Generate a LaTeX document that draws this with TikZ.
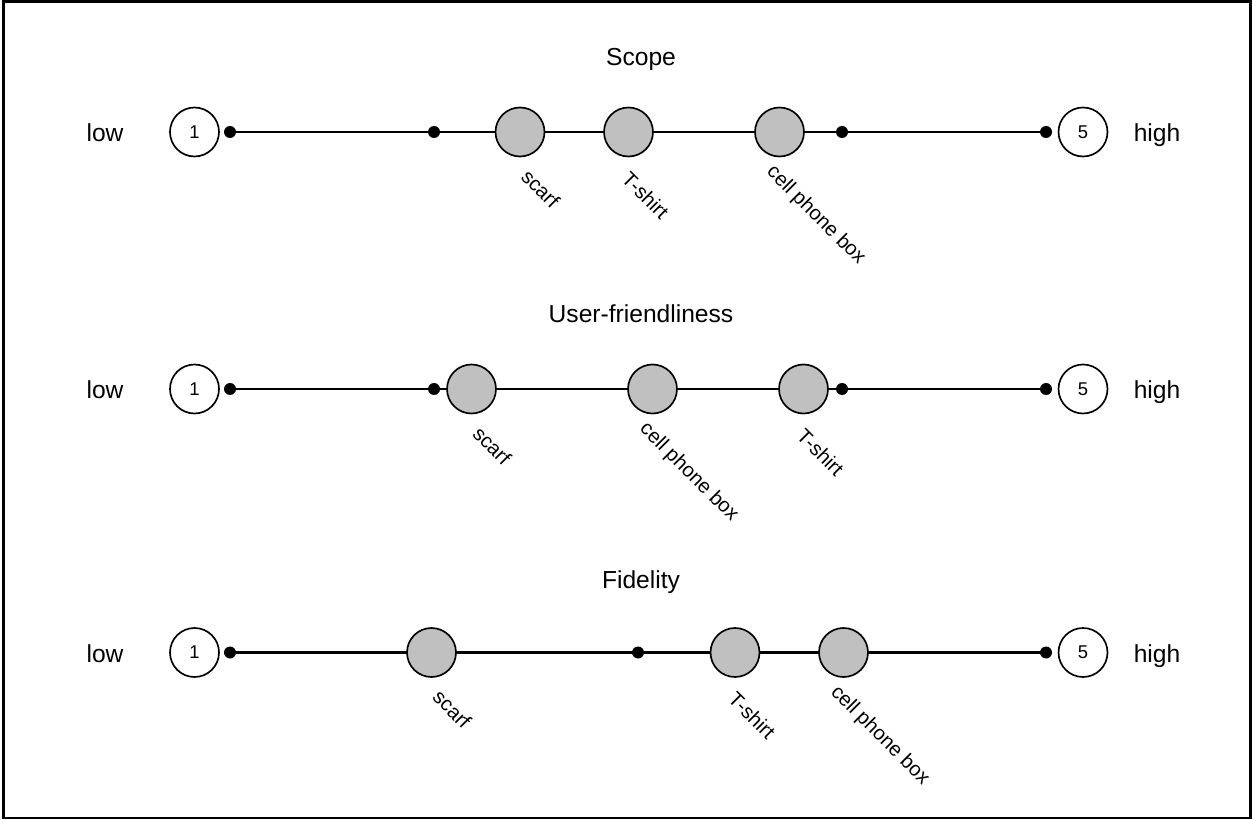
\documentclass[tikz,border=0pt]{standalone}
\usepackage{fontspec}
\setmainfont{Liberation Sans}
\definecolor{itemgray}{RGB}{192,192,192}
\tikzset{
  endpt/.style={circle,draw,fill=white,line width=0.95pt,minimum size=0.98cm,inner sep=0pt,font=\fontsize{10.5}{12}\selectfont},
  item/.style={circle,draw,fill=itemgray,line width=0.95pt,minimum size=0.98cm,inner sep=0pt},
  tick/.style={circle,fill=black,minimum size=0.24cm,inner sep=0pt},
  itemlbl/.style={rotate=-45,anchor=west,inner sep=0pt,font=\fontsize{11.5}{13}\selectfont},
  sidelbl/.style={anchor=base,inner sep=0pt,font=\fontsize{14}{16}\selectfont},
  ttl/.style={anchor=base,inner sep=0pt,font=\fontsize{14}{16}\selectfont},
  axis/.style={line width=1.45pt}
}
\begin{document}
\begin{tikzpicture}[x=0.02cm,y=-0.02cm]
\useasboundingbox (0,0) rectangle (1253,820);
\draw[line width=1.2pt] (3.5,1.5) rectangle (1250.5,818);
% scope
\node[ttl] (ttl1) at (641,65.5) {Scope};
\node[sidelbl] (low1) at (105,141.5) {low};
\node[sidelbl] (high1) at (1157,141.5) {high};
\node[endpt] (one1) at (194.5,132) {1};
\node[endpt] (five1) at (1083,132) {5};
\foreach \i in {1,...,5} \node[tick] (d1\i) at ({230+204*(\i-1)},132) {};
\draw[axis] (d11.center) -- (d15.center);
\node[item] (scarf1) at (520,132) {};
\node[item] (shirt1) at (628.5,132) {};
\node[item] (box1) at (779.5,132) {};
\node[itemlbl] (scarfl1) at (525,173) {scarf};
\node[itemlbl] (shirtl1) at (625.5,175) {T-shirt};
\node[itemlbl] (boxl1) at (769.5,169) {cell phone box};
% user-friendliness
\node[ttl] (ttl2) at (641,323) {User-friendliness};
\node[sidelbl] (low2) at (105,398.5) {low};
\node[sidelbl] (high2) at (1157,398.5) {high};
\node[endpt] (one2) at (194.5,389) {1};
\node[endpt] (five2) at (1083,389) {5};
\foreach \i in {1,...,5} \node[tick] (d2\i) at ({230+204*(\i-1)},389) {};
\draw[axis] (d21.center) -- (d25.center);
\node[item] (scarf2) at (471.5,389) {};
\node[item] (box2) at (652.5,389) {};
\node[item] (shirt2) at (803.5,389) {};
\node[itemlbl] (scarfl2) at (476.5,430) {scarf};
\node[itemlbl] (boxl2) at (642.5,426) {cell phone box};
\node[itemlbl] (shirtl2) at (800.5,432) {T-shirt};
% fidelity
\node[ttl] (ttl3) at (641,588) {Fidelity};
\node[sidelbl] (low3) at (105,662) {low};
\node[sidelbl] (high3) at (1157,662) {high};
\node[endpt] (one3) at (194.5,652.5) {1};
\node[endpt] (five3) at (1083,652.5) {5};
\foreach \i in {1,...,5} \node[tick] (d3\i) at ({230+204*(\i-1)},652.5) {};
\draw[axis] (d31.center) -- (d35.center);
\node[item] (scarf3) at (431.5,652.5) {};
\node[item] (shirt3) at (735,652.5) {};
\node[item] (box3) at (843.5,652.5) {};
\node[itemlbl] (scarfl3) at (436.5,693.5) {scarf};
\node[itemlbl] (shirtl3) at (732,695.5) {T-shirt};
\node[itemlbl] (boxl3) at (833.5,689.5) {cell phone box};
\end{tikzpicture}
\end{document}
